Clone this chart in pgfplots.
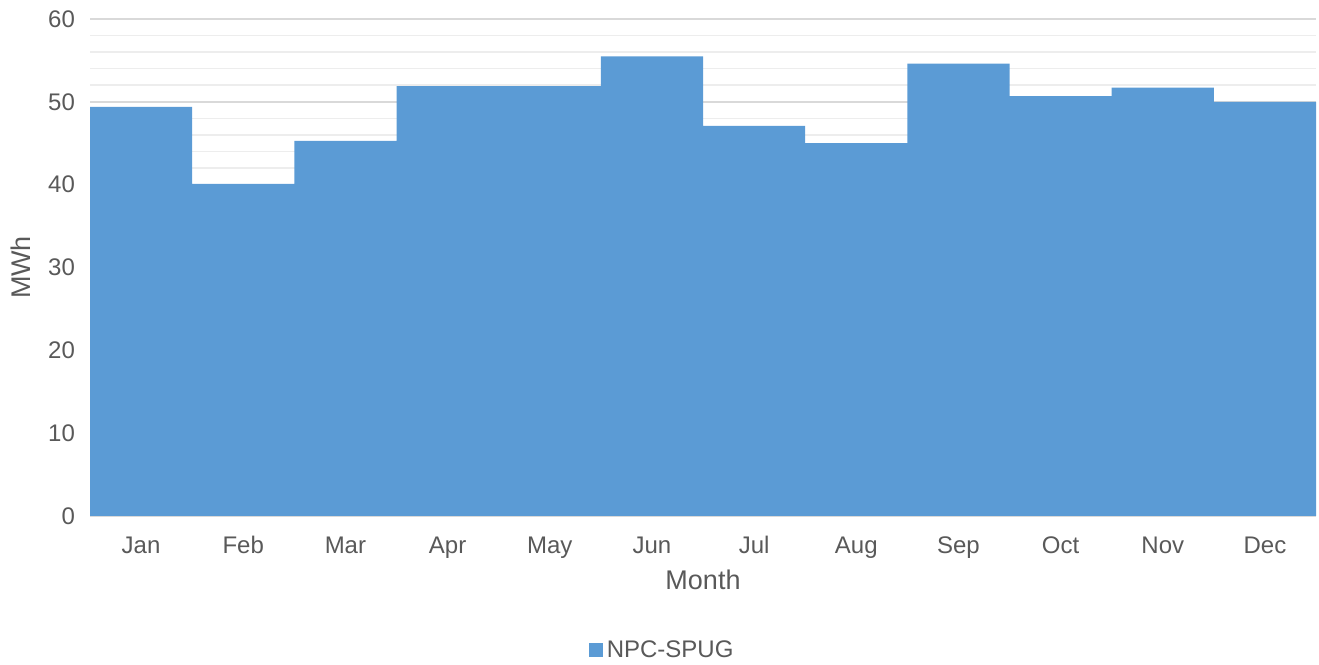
\documentclass[border=0pt]{standalone}
\usepackage{pgfplots}
\pgfplotsset{compat=1.18}
\usepackage{fontspec}
\setmainfont{Liberation Sans}
\definecolor{barblue}{HTML}{5B9BD5}
\definecolor{txtgrey}{HTML}{595959}
\definecolor{majgrid}{HTML}{D9D9D9}
\definecolor{mingrid}{HTML}{EDEDED}
\begin{document}
\begin{tikzpicture}
\begin{axis}[name=ax,
 scale only axis, width=613pt, height=248.5pt,
 ybar, bar width=1, bar shift=0pt,
 xmin=-0.5, xmax=11.5, ymin=0, ymax=60,
 xtick={0,...,11}, xticklabels={Jan,Feb,Mar,Apr,May,Jun,Jul,Aug,Sep,Oct,Nov,Dec},
 ytick={0,10,...,60}, minor y tick num=4,
 ymajorgrids, yminorgrids,
 major grid style={majgrid, line width=0.8pt},
 minor grid style={mingrid, line width=0.8pt},
 axis line style={draw=none}, tick style={draw=none},
 tick label style={font=\fontsize{12}{14}\selectfont, text=txtgrey},
 /pgf/number format/assume math mode=true,
 yticklabel style={xshift=-4pt},
 xticklabel style={yshift=-2.5pt},
 xlabel={Month}, ylabel={MWh},
 label style={font=\fontsize{13.5}{16}\selectfont, text=txtgrey},
 xlabel style={yshift=1pt},
 ylabel style={yshift=2pt},
 legend style={at={(0.4675,-0.27)}, anchor=center, draw=none, font=\fontsize{12}{14}\selectfont, text=txtgrey},
 legend image code/.code={\fill[barblue] (0pt,-3.5pt) rectangle (7pt,3.5pt);},
 clip=false]
\addplot[fill=barblue, draw=none] coordinates {
 (0,49.4) (1,40.1) (2,45.3) (3,51.9) (4,51.9) (5,55.5)
 (6,47.1) (7,45.0) (8,54.6) (9,50.7) (10,51.7) (11,50.0)};
\legend{NPC-SPUG}
\end{axis}
\pgfresetboundingbox
\path (ax.south west) ++(-45pt,-74.5pt) coordinate (bl);
\path (ax.north east) ++(1.5pt,9.5pt) coordinate (tr);
\path (bl) rectangle (tr);
\end{tikzpicture}
\end{document}
